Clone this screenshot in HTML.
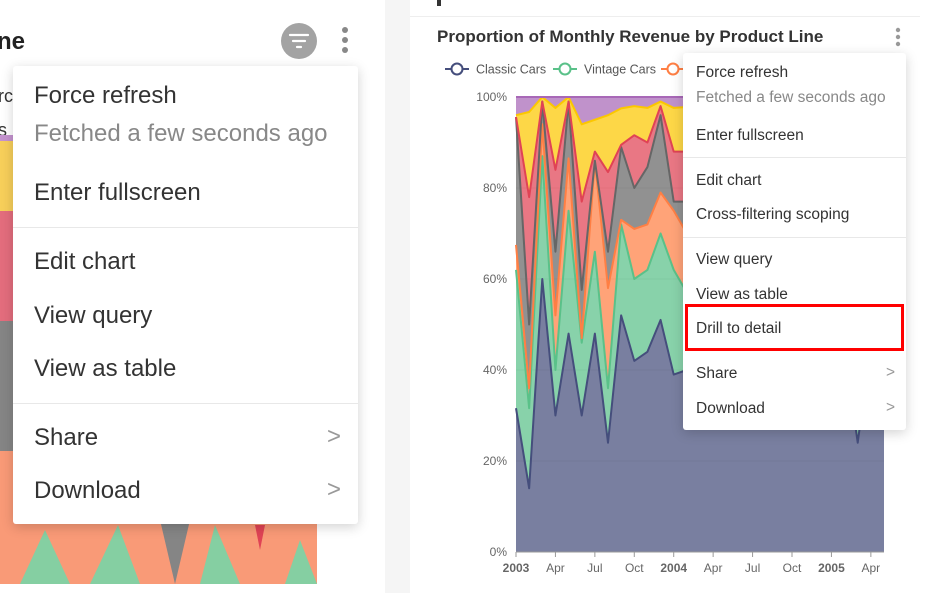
<!DOCTYPE html>
<html><head><meta charset="utf-8">
<style>
body{margin:0;width:928px;height:593px;overflow:hidden;background:#fff;font-family:"Liberation Sans",sans-serif;position:relative}
.abs{position:absolute}
.menu{position:absolute;background:#fff;box-shadow:0 3px 12px rgba(0,0,0,0.18);border-radius:3px}
.mi{position:absolute;left:0;right:0;color:#333;white-space:nowrap}
.div{position:absolute;left:0;right:0;height:1px;background:#e8e8e8}
.chev{position:absolute;color:#999}
</style></head><body>
<!-- left panel -->
<div class="abs" style="left:0;top:0;width:385px;height:593px;background:#fff"></div>
<div class="abs" style="left:-3px;top:28px;font-size:24px;font-weight:bold;color:#222">ne</div>
<div class="abs" style="left:-2px;top:86px;font-size:18px;color:#333">rc</div>
<div class="abs" style="left:-2px;top:120px;font-size:18px;color:#333">s</div>
<svg class="abs" style="left:0;top:0" width="385" height="593">
<rect x="0" y="135" width="317" height="6" fill="#c493cf"/>
<rect x="0" y="141" width="317" height="70" fill="#f7cf5a"/>
<rect x="0" y="211" width="317" height="110" fill="#e36d7d"/>
<rect x="0" y="321" width="317" height="130" fill="#858585"/>
<rect x="0" y="451" width="317" height="133" fill="#f99a77"/>
<polygon points="20,584 45,530 70,584" fill="#85cfa2"/>
<polygon points="90,584 118,525 140,584" fill="#85cfa2"/>
<polygon points="160,520 175,584 190,520" fill="#858585"/>
<polygon points="200,584 215,525 240,584" fill="#85cfa2"/>
<polygon points="255,525 260,550 265,525" fill="#e04355"/>
<polygon points="285,584 300,540 317,584" fill="#85cfa2"/>
<circle cx="299" cy="41" r="18" fill="#a3a3a3"/>
<path d="M290 35h18M293 41h12M297 47h4" stroke="#fff" stroke-width="2.2" stroke-linecap="round"/>
<circle cx="345" cy="30" r="3" fill="#888"/><circle cx="345" cy="40" r="3" fill="#888"/><circle cx="345" cy="50" r="3" fill="#888"/>
</svg>
<div class="abs" style="left:385px;top:0;width:25px;height:593px;background:#f5f5f5"></div>
<div class="menu" style="left:13px;top:66px;width:345px;height:458px;font-size:24px">
 <div class="mi" style="top:16px;left:21px">Force refresh</div>
 <div class="mi" style="top:54px;left:21px;color:#888">Fetched a few seconds ago</div>
 <div class="mi" style="top:113px;left:21px">Enter fullscreen</div>
 <div class="div" style="top:161px"></div>
 <div class="mi" style="top:182px;left:21px">Edit chart</div>
 <div class="mi" style="top:236px;left:21px">View query</div>
 <div class="mi" style="top:289px;left:21px">View as table</div>
 <div class="div" style="top:337px"></div>
 <div class="mi" style="top:358px;left:21px">Share</div>
 <div class="chev" style="top:357px;left:314px">&gt;</div>
 <div class="mi" style="top:411px;left:21px">Download</div>
 <div class="chev" style="top:410px;left:314px">&gt;</div>
</div>
<!-- right panel -->
<div class="abs" style="left:410px;top:16px;width:510px;height:1px;background:#eee"></div>
<div class="abs" style="left:437px;top:0;width:4px;height:6px;background:#333"></div>
<div class="abs" style="left:437px;top:27px;font-size:17px;font-weight:bold;color:#333">Proportion of Monthly Revenue by Product Line</div>
<svg class="abs" style="left:890px;top:26px" width="16" height="22"><circle cx="8" cy="4" r="2.2" fill="#999"/><circle cx="8" cy="11" r="2.2" fill="#999"/><circle cx="8" cy="18" r="2.2" fill="#999"/></svg>
<svg id="chart" class="abs" style="left:0;top:0" width="928" height="593"></svg>
<div class="menu" style="left:683px;top:53px;width:223px;height:377px;font-size:15.5px">
 <div class="mi" style="top:11px;left:13px">Force refresh</div>
 <div class="mi" style="top:36px;left:13px;color:#888">Fetched a few seconds ago</div>
 <div class="mi" style="top:74px;left:13px">Enter fullscreen</div>
 <div class="div" style="top:104px"></div>
 <div class="mi" style="top:119px;left:13px">Edit chart</div>
 <div class="mi" style="top:153px;left:13px">Cross-filtering scoping</div>
 <div class="div" style="top:184px"></div>
 <div class="mi" style="top:198px;left:13px">View query</div>
 <div class="mi" style="top:233px;left:13px">View as table</div>
 <div class="mi" style="top:267px;left:13px">Drill to detail</div>
 <div class="mi" style="top:312px;left:13px">Share</div>
 <div class="chev" style="top:311px;left:203px">&gt;</div>
 <div class="mi" style="top:347px;left:13px">Download</div>
 <div class="chev" style="top:346px;left:203px">&gt;</div>
</div>
<div class="abs" style="left:685px;top:304px;width:213px;height:41px;border:3px solid #f00"></div>
<script>
const months=["2003","Feb","Mar","Apr","May","Jun","Jul","Aug","Sep","Oct","Nov","Dec","2004","Feb","Mar","Apr","May","Jun","Jul","Aug","Sep","Oct","Nov","Dec","2005","Feb","Mar","Apr","May"];
const seriesNames=["Classic Cars","Vintage Cars","Motorcycles","Trucks and Buses","Planes","Ships","Trains"];
const classic=[31.6,14,60,30,48,30,48,24,52,42,44,51,39,40,46,38,50,42,47,40,52,44,48,41,50,45,24,46,44];
const vintage=[30.4,17.6,27,10,27,16,18,12,20,18,18,19,23,17,15,20,14,18,16,19,13,17,15,18,14,17,5,16,17];
const motorcycles=[5.5,4.4,7,12,11.5,1,20,22,1,11,10,9,13,13,12,14,10,13,11,12,10,13,11,13,11,12,20,12,12];
const trucks=[28.1,14,5,14,12.5,10.6,0,8,16,9,12.6,17,2,7,10,8,11,9,10,9,10,9,10,10,9,10,15,10,10];
const planes=[0,28,0,18,0,19.4,2,17.5,0.5,11.6,5.4,2,11,11,8,10,7,9,8,10,7,8,8,9,8,8,16,8,9];
const ships=[0.4,18.7,1,13.6,1,17,7,12.5,8,6.4,7.6,1,9.6,9.8,7,8,6,7,6,8,6,7,6,7,6,6,16,6,6];
const trains=[4,3.3,0,2.4,0,6,5,4,2.5,2,2.4,1,2.4,2.2,2,2,2,2,2,2,2,2,2,2,2,2,4,2,2];
const yTicks=[0,20,40,60,80,100];
const xTickIdx=[0,3,6,9,12,15,18,21,24,27];

const series=[classic,vintage,motorcycles,trucks,planes,ships,trains];
const colors=["#454E7C","#5AC189","#FF7F44","#666666","#E04355","#FCC700","#A868B7"];
const X0=516,X1=884,Y0=552,Y1=97;
const xs=i=>X0+(X1-X0)*i/(months.length-1);
const ys=v=>Y0-(Y0-Y1)*v/100;
const svg=document.getElementById('chart');
const NS="http://www.w3.org/2000/svg";
function mk(t,a){const e=document.createElementNS(NS,t);for(const k in a)e.setAttribute(k,a[k]);svg.appendChild(e);return e;}
yTicks.forEach(t=>{
  const g=mk('line',{x1:X0,x2:X1,y1:ys(t),y2:ys(t),stroke:'#e6e6e6','stroke-width':1});
  
  
  const l=mk('text',{x:507,y:ys(t)+4,'text-anchor':'end','font-size':12,fill:'#666','font-family':'Liberation Sans'});
  l.textContent=t+'%';
  
  
});
const cum=[];let prev=months.map(()=>0);
series.forEach((s,k)=>{const c=s.map((v,i)=>prev[i]+v);cum.push({lo:prev,hi:c});prev=c;});
cum.forEach((c,k)=>{
  let d='M'+c.hi.map((v,i)=>xs(i)+','+ys(Math.min(v,100))).join('L');
  for(let i=months.length-1;i>=0;i--)d+='L'+xs(i)+','+ys(Math.min(c.lo[i],100));
  const a=mk('path',{d:d+'Z',fill:colors[k],'fill-opacity':0.72,stroke:'none'});
  
  
});
cum.forEach((c,k)=>{
  const p=mk('polyline',{points:c.hi.map((v,i)=>xs(i)+','+ys(Math.min(v,100))).join(' '),fill:'none',stroke:colors[k],'stroke-width':2,'stroke-linejoin':'round'});
  
  
});
const ax=mk('line',{x1:X0,x2:X1,y1:Y0,y2:Y0,stroke:'#999'});


xTickIdx.forEach(i=>{
  const tk=mk('line',{x1:xs(i),x2:xs(i),y1:Y0,y2:Y0+5,stroke:'#999'});
  
  
  const yr=/^\d{4}$/.test(months[i]);
  const l=mk('text',{x:xs(i),y:572,'text-anchor':'middle','font-size':12,fill:'#666','font-weight':yr?'bold':'normal','font-family':'Liberation Sans'});
  l.textContent=months[i];
  
  
});
let lx=445;
seriesNames.slice(0,3).forEach((n,k)=>{
  const g=document.createElementNS(NS,'g');svg.appendChild(g);
  
  
  const ln=document.createElementNS(NS,'line');[['x1',lx],['x2',lx+24],['y1',69],['y2',69],['stroke',colors[k]],['stroke-width',2]].forEach(a=>ln.setAttribute(a[0],a[1]));g.appendChild(ln);
  const c=document.createElementNS(NS,'circle');[['cx',lx+12],['cy',69],['r',5.5],['fill','#fff'],['stroke',colors[k]],['stroke-width',2]].forEach(a=>c.setAttribute(a[0],a[1]));g.appendChild(c);
  const t=document.createElementNS(NS,'text');[['x',lx+31],['y',73.5],['font-size',12.5],['fill','#555'],['font-family','Liberation Sans']].forEach(a=>t.setAttribute(a[0],a[1]));t.textContent=n;g.appendChild(t);
  lx+=108;
});
</script>
</body></html>
